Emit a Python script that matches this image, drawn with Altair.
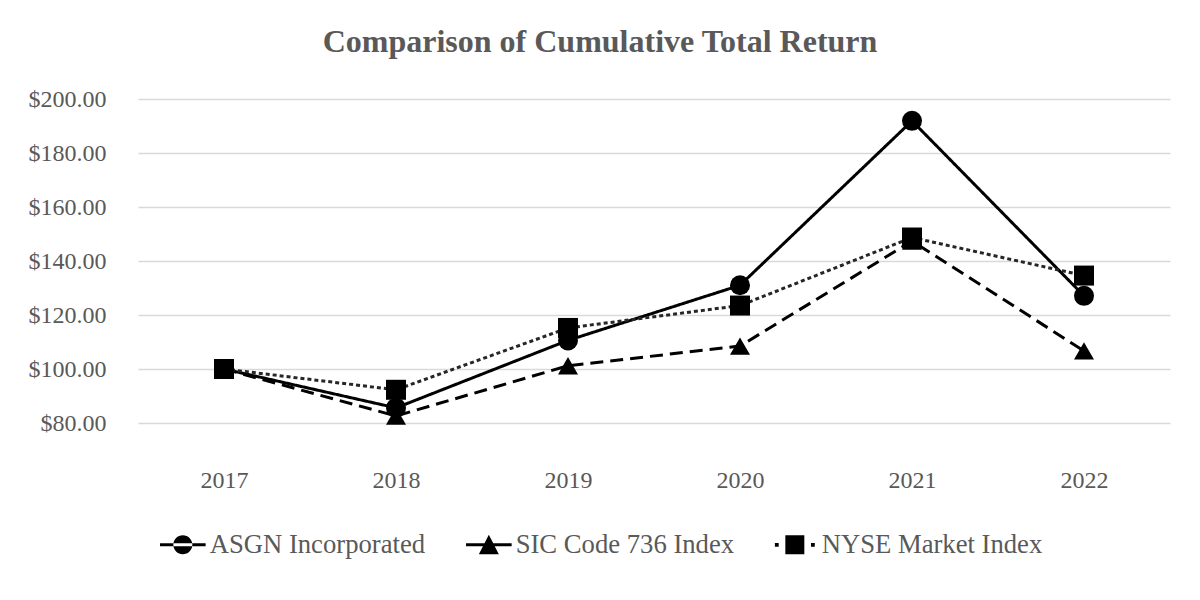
import altair as alt
import pandas as pd

years = ["2017", "2018", "2019", "2020", "2021", "2022"]
series_names = ["ASGN Incorporated", "SIC Code 736 Index", "NYSE Market Index"]
asgn = [100.00, 85.6, 110.6, 131.0, 191.9, 127.1]
sic = [100.00, 82.6, 101.2, 108.5, 147.4, 106.7]
nyse = [100.00, 92.3, 115.2, 123.5, 148.7, 134.6]
y_ticks = [80, 100, 120, 140, 160, 180, 200]

rows = []
for name, vals in zip(series_names, [asgn, sic, nyse]):
    for yr, v in zip(years, vals):
        rows.append({"year": yr, "value": v, "series": name, "legend": name})
df = pd.DataFrame(rows)

FONT = "'Liberation Serif', 'Times New Roman', serif"
GRAY = "#595959"

x_enc = alt.X("year:O", scale=alt.Scale(type="point", padding=0.5), sort=years,
              axis=alt.Axis(title=None, labelAngle=0, domain=False, ticks=False, grid=False,
                            labelFont=FONT, labelFontSize=24, labelColor=GRAY, labelPadding=45))
y_enc = alt.Y("value:Q", scale=alt.Scale(domain=[80, 200], nice=False, zero=False),
              axis=alt.Axis(title=None, values=y_ticks, format="$.2f", domain=False, ticks=False,
                            grid=True, gridColor="#d9d9d9", gridWidth=1.5,
                            labelFont=FONT, labelFontSize=24, labelColor=GRAY, labelPadding=32))

lines = alt.Chart(df).mark_line(strokeWidth=3, strokeCap="butt").encode(
    x=x_enc, y=y_enc,
    detail="series:N",
    color=alt.Color("series:N", scale=alt.Scale(domain=series_names,
                                               range=["#000000", "#000000", "#262626"]),
                    legend=None),
    strokeDash=alt.StrokeDash("series:N", sort=series_names,
                              scale=alt.Scale(domain=series_names, range=[[1, 0], [13, 7], [4, 3]]),
                              legend=None),
)

points = alt.Chart(df).mark_point(filled=True, color="black", opacity=1).encode(
    x=x_enc, y=y_enc,
    shape=alt.Shape("series:N", scale=alt.Scale(domain=series_names,
                                               range=["circle", "triangle-up", "square"]),
                    legend=None),
    size=alt.Size("series:N", scale=alt.Scale(domain=series_names, range=[400, 400, 361]),
                  legend=None),
)

circ = "M-1,0A1,1 0 1,0 1,0A1,1 0 1,0 -1,0Z"
line_rect = "M-2.4,-0.16H2.4V0.16H-2.4Z"
p_asgn = line_rect + circ
p_sic = line_rect + "M0,-1.05L1.05,1L-1.05,1Z"
p_nyse = ("M-1,-1H1V1H-1Z"
          "M-2.1,-0.2H-1.7V0.2H-2.1Z"
          "M1.7,-0.2H2.1V0.2H1.7Z")

legend_layer = alt.Chart(df).mark_point(filled=True, color="black", opacity=0, size=1).encode(
    x=x_enc, y=y_enc,
    shape=alt.Shape("legend:N", sort=series_names,
                    scale=alt.Scale(domain=series_names, range=[p_asgn, p_sic, p_nyse]),
                    legend=alt.Legend(title=None, orient="none", direction="horizontal",
                                      legendX=31.5, legendY=432, padding=0,
                                      symbolSize=361, symbolFillColor="black",
                                      symbolStrokeColor="black", symbolStrokeWidth=0,
                                      symbolOpacity=1, labelFont=FONT, labelFontSize=26.67,
                                      labelColor=GRAY, labelOffset=13.5, columnPadding=40,
                                      labelLimit=400)),
)

chart = alt.layer(lines, points, legend_layer).resolve_scale(shape="independent").properties(
    width=1032, height=324,
    autosize=alt.AutoSizeParams(type="none"),
    padding={"left": 130, "top": 91, "right": 22, "bottom": 169},
    title=alt.Title("Comparison of Cumulative Total Return", font=FONT, fontSize=32,
                    fontWeight="bold", color=GRAY, anchor="middle", dx=-54, offset=28),
).configure(font=FONT).configure_axis(labelFont=FONT).configure_legend(labelFont=FONT).configure_view(stroke=None)

chart.save("out.html", embed_options={"renderer": "svg", "actions": False})
